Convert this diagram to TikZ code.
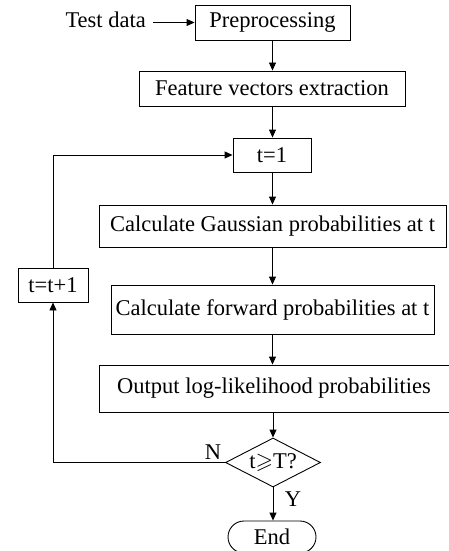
\documentclass[tikz,border=0pt]{standalone}
\usepackage{amssymb}
\usepackage{fontspec}
\setmainfont{Liberation Serif}
\usetikzlibrary{arrows.meta,shapes.geometric,shapes.misc}
\begin{document}
\begin{tikzpicture}[x=1pt,y=-1pt,
  every node/.style={font=\fontsize{22.5}{27}\selectfont},
  box/.style={draw,line width=0.9pt,rectangle,inner sep=0pt,align=center},
  arr/.style={draw,line width=0.9pt,-{Triangle[length=8pt,width=7pt]}},
  ]
\useasboundingbox (0,0) rectangle (449,551);
\node[box,minimum width=155pt,minimum height=35pt] (pre) at (272.5,22.5) {Preprocessing};
\node[anchor=east,inner sep=0pt] (test) at (146,20) {Test data};
\node[box,minimum width=266pt,minimum height=35pt] (feat) at (272,88.5) {Feature vectors extraction};
\node[box,minimum width=78pt,minimum height=34pt] (t1) at (272,155) {t=1};
\node[box,minimum width=347pt,minimum height=42pt] (gauss) at (272.5,226) {Calculate Gaussian probabilities at t};
\node[box,minimum width=323pt,minimum height=49pt] (fwd) at (272.5,309.5) {Calculate forward probabilities at t};
\node[box,minimum width=354pt,minimum height=47pt] (out) at (276,388.5) {};
\node (outtext) at (274,388.5) {Output log-likelihood probabilities};
\node[draw,line width=0.9pt,diamond,inner sep=0pt,minimum width=95pt,minimum height=49pt] (dec) at (273,462.5) {};
\node[inner sep=0pt] (dectext) at (273,462.5) {t$\geqslant$T?};
\node[draw,line width=0.9pt,rounded rectangle,inner sep=0pt,minimum width=88pt,minimum height=32pt] (end) at (272,537) {End};
\node[box,minimum width=70pt,minimum height=34pt] (inc) at (53,285) {t=t+1};
\node[inner sep=0pt] (nlab) at (213,452) {N};
\node[inner sep=0pt] (ylab) at (293,499) {Y};
\draw[arr] ([xshift=7pt]test.east |- pre.west) -- (pre.west);
\draw[arr] (pre.south) -- (feat.north -| pre.south);
\draw[arr] (feat.south -| pre.south) -- (t1.north -| pre.south);
\draw[arr] (t1.south -| pre.south) -- (gauss.north -| pre.south);
\draw[arr] (gauss.south -| pre.south) -- (fwd.north -| pre.south);
\draw[arr] (fwd.south -| pre.south) -- (out.north -| pre.south);
\draw[arr] (out.south -| dec.north) -- (dec.north);
\draw[arr] (dec.south) -- (end.north -| dec.south);
\draw[arr] (dec.west) -| (inc.south);
\draw[arr] (inc.north) |- (t1.west);
\end{tikzpicture}
\end{document}
